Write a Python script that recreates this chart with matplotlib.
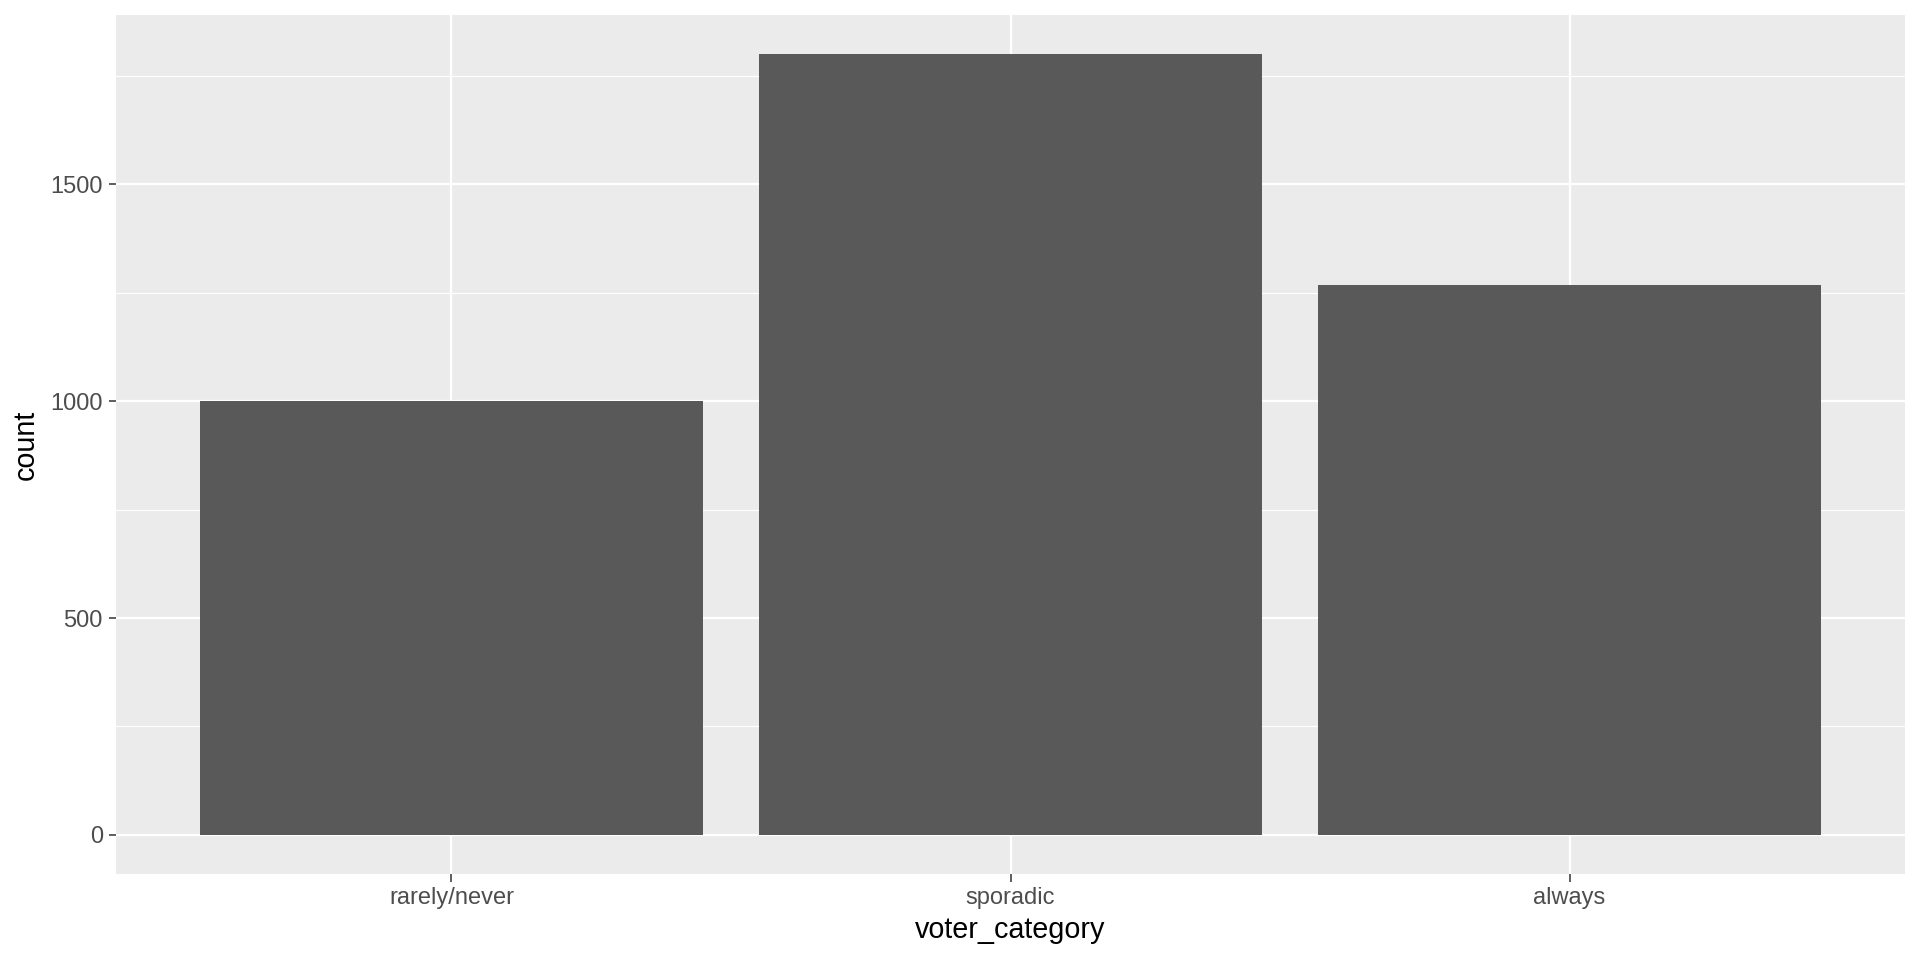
import matplotlib
matplotlib.use("Agg")
import matplotlib.pyplot as plt
import numpy as np

categories = ["rarely/never", "sporadic", "always"]
counts = [1001, 1800, 1267]
y_ticks = [0, 500, 1000, 1500]
y_minor = [250, 750, 1250, 1750]

plt.rcParams['font.family'] = ['Liberation Sans', 'DejaVu Sans']

fig = plt.figure(figsize=(19.2, 9.6), dpi=100)
ax = fig.add_axes([116/1920, 1 - 874/960, (1905-116)/1920, (874-15)/960])
ax.set_facecolor('#EBEBEB')

x = np.arange(1, len(categories) + 1)
ax.bar(x, counts, width=0.9, color='#595959', zorder=3)

ax.set_xlim(0.4, 3.6)
ymax = max(counts)
ax.set_ylim(-0.05 * ymax, 1.05 * ymax)

ax.set_yticks(y_ticks)
ax.set_yticks(y_minor, minor=True)
ax.set_xticks(x)
ax.set_xticklabels(categories)

for v in y_ticks:
    ax.axhline(v, color='white', lw=1.6, zorder=1)
for v in y_minor:
    ax.axhline(v, color='white', lw=0.8, zorder=1)
for v in x:
    ax.axvline(v, color='white', lw=1.6, zorder=1)

for s in ax.spines.values():
    s.set_visible(False)

ax.tick_params(axis='both', which='major', length=5.4, width=1.1, color='#333333',
               labelcolor='#4D4D4D', labelsize=17, pad=4)
ax.tick_params(axis='y', which='minor', length=0)

ax.set_xlabel('voter_category', fontsize=20.7, color='black', labelpad=5)
ax.set_ylabel('count', fontsize=20.7, color='black', labelpad=8)

fig.savefig('out.png', dpi=100, facecolor='white')
